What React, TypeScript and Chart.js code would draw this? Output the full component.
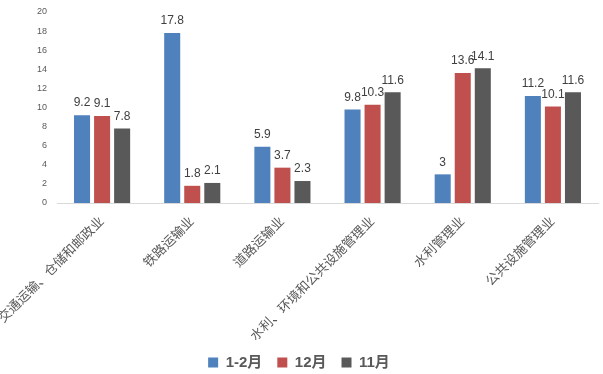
import React, { useEffect, useRef } from "react";
import { Chart, registerables } from "chart.js";

Chart.register(...registerables);

const categories = [
  "交通运输、仓储和邮政业",
  "铁路运输业",
  "道路运输业",
  "水利、环境和公共设施管理业",
  "水利管理业",
  "公共设施管理业",
];
const seriesNames = ["1-2月", "12月", "11月"];
const janFeb = [9.2, 17.8, 5.9, 9.8, 3, 11.2];
const dec = [9.1, 1.8, 3.7, 10.3, 13.6, 10.1];
const nov = [7.8, 2.1, 2.3, 11.6, 14.1, 11.6];
const colors = ["#4F81BD", "#C0504D", "#595959"];
const yTicks = [0, 2, 4, 6, 8, 10, 12, 14, 16, 18, 20];

const FONT = "'Liberation Sans', 'Noto Sans CJK SC', sans-serif";

const valueLabels = {
  id: "valueLabels",
  afterDatasetsDraw(chart: any) {
    const ctx = chart.ctx;
    ctx.save();
    ctx.font = `12px ${FONT}`;
    ctx.fillStyle = "#404040";
    ctx.textAlign = "center";
    ctx.textBaseline = "bottom";
    chart.data.datasets.forEach((ds: any, i: number) => {
      const meta = chart.getDatasetMeta(i);
      meta.data.forEach((bar: any, j: number) => {
        ctx.fillText(String(ds.data[j]), bar.x, bar.y - 6);
      });
    });
    ctx.restore();
  },
};

export default function App() {
  const ref = useRef<HTMLCanvasElement>(null);
  useEffect(() => {
    document.body.style.margin = "0";
    const data = [janFeb, dec, nov];
    const chart = new Chart(ref.current!, {
      type: "bar",
      data: {
        labels: categories,
        datasets: seriesNames.map((n, i) => ({
          label: n,
          data: data[i],
          backgroundColor: colors[i],
          barPercentage: 0.8,
          categoryPercentage: 0.667,
        })),
      },
      options: {
        animation: false,
        responsive: false,
        maintainAspectRatio: false,
        layout: { padding: { left: 0, right: 5, top: 12, bottom: -6 } },
        plugins: {
          legend: {
            position: "bottom",
            labels: {
              boxWidth: 10,
              boxHeight: 10,
              color: "#595959",
              font: { family: FONT, size: 15, weight: "bold" },
              padding: 15,
            },
          },
          tooltip: { enabled: false },
        },
        scales: {
          x: {
            grid: { display: false, drawTicks: false },
            border: { display: true, color: "#D9D9D9", width: 1 },
            afterFit: (s: any) => {
              s.paddingLeft = 0;
              s.paddingRight = 0;
              s.height = 137;
            },
            ticks: {
              minRotation: 45,
              maxRotation: 45,
              color: "#595959",
              padding: 11,
              font: { family: FONT, size: 13 },
            },
          },
          y: {
            min: 0,
            max: 20,
            afterBuildTicks: (s: any) => {
              s.ticks = yTicks.map((v) => ({ value: v }));
            },
            afterFit: (s: any) => {
              s.width = 57;
              s.paddingTop = 0;
              s.paddingBottom = 0;
            },
            grid: { display: false, drawTicks: false },
            border: { display: false },
            ticks: {
              color: "#595959",
              padding: 10,
              font: { family: FONT, size: 9 },
            },
          },
        },
      },
      plugins: [valueLabels],
    });
    return () => chart.destroy();
  }, []);
  return (
    <div style={{ width: 603, height: 374 }}>
      <canvas ref={ref} width={603} height={374} style={{ display: "block" }} />
    </div>
  );
}
